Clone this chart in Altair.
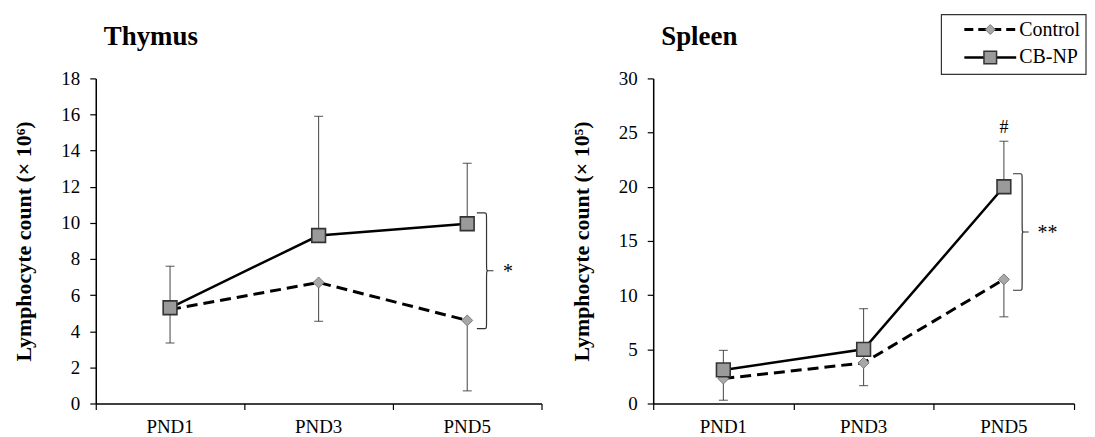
import altair as alt
import pandas as pd

# ---------------- data ----------------
days = ["PND1", "PND3", "PND5"]
series_names = ["Control", "CB-NP"]

thymus_control = [5.2, 6.7, 4.6]
thymus_control_sd = [1.85, 2.15, 3.9]
thymus_cbnp = [5.3, 9.3, 9.95]
thymus_cbnp_sd = [2.3, 6.6, 3.35]

spleen_control = [2.3, 3.75, 11.45]
spleen_control_sd = [2.0, 2.1, 3.45]
spleen_cbnp = [3.1, 5.0, 20.0]
spleen_cbnp_sd = [1.8, 3.75, 4.2]

panel_titles = ["Thymus", "Spleen"]
y_titles = ["Lymphocyte count (\u00d7 10\u2076)", "Lymphocyte count (\u00d7 10\u2075)"]
y_max = [18, 30]
y_step = [2, 5]
sig_marks = ["*", "**"]
hash_mark = "#"

FONT = "Liberation Serif"
H = 326


def build_df(ctrl, ctrl_sd, cb, cb_sd):
    rows = []
    for i, d in enumerate(days):
        rows.append({"day": d, "x": i + 0.5, "series": "Control", "mean": ctrl[i],
                     "end": ctrl[i] - ctrl_sd[i]})
        rows.append({"day": d, "x": i + 0.5, "series": "CB-NP", "mean": cb[i],
                     "end": cb[i] + cb_sd[i]})
    return pd.DataFrame(rows)


def panel(idx, ctrl, ctrl_sd, cb, cb_sd, width, pad_top, pad_bot, legend=False):
    df = build_df(ctrl, ctrl_sd, cb, cb_sd)
    ymax = y_max[idx]

    def X(field):
        return alt.X(f"{field}:Q",
                     scale=alt.Scale(domain=[0, 3], nice=False, zero=False),
                     axis=alt.Axis(values=[0, 1, 2, 3], labels=False, tickSize=6,
                                   title=None))

    def Y(field):
        return alt.Y(f"{field}:Q",
                     scale=alt.Scale(domain=[0, ymax], nice=False, zero=True),
                     axis=alt.Axis(values=list(range(0, ymax + 1, y_step[idx])),
                                   tickSize=6, labelPadding=10, titlePadding=25,
                                   title=y_titles[idx]))

    base = alt.Chart(df)
    ctrl_df = df[df.series == "Control"]
    cb_df = df[df.series == "CB-NP"]

    err = base.mark_rule(color="#444", strokeWidth=1).encode(
        x=X("x"), y=Y("mean"), y2="end")
    caps = base.mark_tick(orient="horizontal", size=9, thickness=1.2, color="#333").encode(
        x=X("x"), y=Y("end"))

    ctrl_line = alt.Chart(ctrl_df).mark_line(color="black", strokeWidth=3,
                                             strokeDash=[11, 6]).encode(x=X("x"), y=Y("mean"))
    ctrl_pts = alt.Chart(ctrl_df).mark_point(shape="diamond", filled=True, size=120,
                                             fill="#a8a8a8", stroke="#7a7a7a",
                                             strokeWidth=1, opacity=1).encode(
        x=X("x"), y=Y("mean"))
    cb_line = alt.Chart(cb_df).mark_line(color="black", strokeWidth=2.5).encode(
        x=X("x"), y=Y("mean"))
    cb_pts = alt.Chart(cb_df).mark_point(shape="square", filled=True, size=190,
                                         fill="#9a9a9a", stroke="#333333",
                                         strokeWidth=1.6, opacity=1).encode(
        x=X("x"), y=Y("mean"))

    # category labels under the axis, centred in each band
    lab_df = pd.DataFrame({"x": [i + 0.5 for i in range(len(days))], "t": days})
    labels = alt.Chart(lab_df).mark_text(baseline="top", align="center", font=FONT,
                                         fontSize=19, color="black").encode(
        x=X("x"), y=alt.value(H + 15), text="t:N")

    # brace between the two PND5 means
    top = cb[2] + pad_top
    bot = ctrl[2] - pad_bot
    mid = (top + bot) / 2
    xa, xb, xc = 2.5 + 0.065, 2.5 + 0.13, 2.5 + 0.2
    brace_df = pd.DataFrame({
        "x": [xa, xb, xb, xb, xb, xc, xb, xb, xb, xb, xa],
        "y": [top, top, top, mid, mid, mid, mid, mid, bot, bot, bot],
        "o": list(range(11)),
    })
    brace = alt.Chart(brace_df).mark_line(interpolate="basis", color="#333",
                                          strokeWidth=1.2).encode(
        x=X("x"), y=Y("y"), order="o:Q")

    star_df = pd.DataFrame({"x": [xc + 0.04], "y": [mid], "t": [sig_marks[idx]]})
    star = alt.Chart(star_df).mark_text(align="left", baseline="middle", font=FONT,
                                        fontSize=20, color="black", dy=1).encode(
        x=X("x"), y=Y("y"), text="t:N")

    title = alt.Chart(alt.Data(values=[{"t": panel_titles[idx]}])).mark_text(
        align="left", baseline="alphabetic", font=FONT, fontSize=27,
        fontWeight="bold", color="black").encode(
        x=alt.value(8), y=alt.value(-33), text="t:N")

    layers = [err, caps, ctrl_line, cb_line, ctrl_pts, cb_pts, brace, star, title, labels]

    if idx == 1:
        hash_df = pd.DataFrame({"x": [2.5], "y": [cb[2] + cb_sd[2]], "t": [hash_mark]})
        hsh = alt.Chart(hash_df).mark_text(align="center", baseline="bottom", font=FONT,
                                           fontSize=18, color="black", dy=-4).encode(
            x=X("x"), y=Y("y"), text="t:N")
        layers.append(hsh)

    if legend:
        box = alt.Chart(alt.Data(values=[{"a": 1}])).mark_rect(
            fill="white", stroke="#333", strokeWidth=1.2).encode(
            x=alt.value(289), x2=alt.value(434), y=alt.value(-64), y2=alt.value(-4))
        layers.append(box)
        for k, name in enumerate(series_names):
            yy = -49 if k == 0 else -21
            d = alt.Data(values=[{"s": name}])
            if k == 0:
                ln = alt.Chart(d).mark_rule(color="black", strokeWidth=3,
                                            strokeDash=[9, 5]).encode(
                    x=alt.value(312), x2=alt.value(364), y=alt.value(yy))
                mk = alt.Chart(d).mark_point(shape="diamond", filled=True, size=100,
                                             fill="#a8a8a8", stroke="#7a7a7a",
                                             strokeWidth=1, opacity=1).encode(
                    x=alt.value(338), y=alt.value(yy))
            else:
                ln = alt.Chart(d).mark_rule(color="black", strokeWidth=2.5).encode(
                    x=alt.value(312), x2=alt.value(364), y=alt.value(yy))
                mk = alt.Chart(d).mark_point(shape="square", filled=True, size=160,
                                             fill="#9a9a9a", stroke="#333333",
                                             strokeWidth=1.5, opacity=1).encode(
                    x=alt.value(338), y=alt.value(yy))
            tx = alt.Chart(d).mark_text(align="left", baseline="middle", font=FONT,
                                        fontSize=20, color="black").encode(
                x=alt.value(367), y=alt.value(yy), text="s:N")
            layers += [ln, mk, tx]

    return alt.layer(*layers).properties(width=width, height=H)


left = panel(0, thymus_control, thymus_control_sd, thymus_cbnp, thymus_cbnp_sd,
             447, 0.6, 0.45)
right = panel(1, spleen_control, spleen_control_sd, spleen_cbnp, spleen_cbnp_sd,
              422, 1.2, 1.0, legend=True)

chart = alt.hconcat(left, right, spacing=28).properties(
    padding={"left": 5, "top": 5, "right": 0, "bottom": 0}
).configure_view(stroke=None).configure_axis(
    grid=False,
    domainColor="black", domainWidth=1.5,
    tickColor="black", tickWidth=1.2,
    labelFont=FONT, labelFontSize=19, labelColor="black",
    titleFont=FONT, titleFontSize=22, titleFontWeight="bold", titleColor="black",
)

chart.save("out.html", embed_options={"renderer": "svg", "actions": False})
